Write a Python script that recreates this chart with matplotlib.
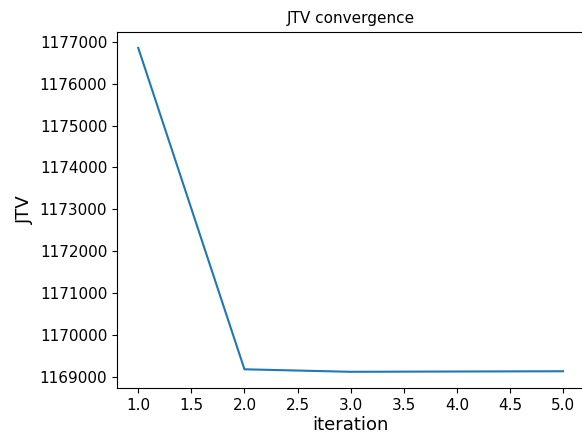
import matplotlib
matplotlib.use("Agg")
import matplotlib.pyplot as plt

iterations = [1, 2, 3, 4, 5]
jtv = [1176860, 1169175, 1169115, 1169122, 1169128]

fig = plt.figure(figsize=(5.82, 4.34), dpi=100)
ax = fig.add_axes([0.201, 0.106, 0.803, 0.821])
ax.plot(iterations, jtv, color="#1f77b4", linewidth=1.5)
ax.set_title("JTV convergence", fontsize=11)
ax.set_xlabel("iteration", fontsize=13, labelpad=2.5)
ax.set_ylabel("JTV", fontsize=13)
ax.tick_params(labelsize=11)
ax.ticklabel_format(useOffset=False, style="plain", axis="y")
fig.savefig("out.png", dpi=100)
